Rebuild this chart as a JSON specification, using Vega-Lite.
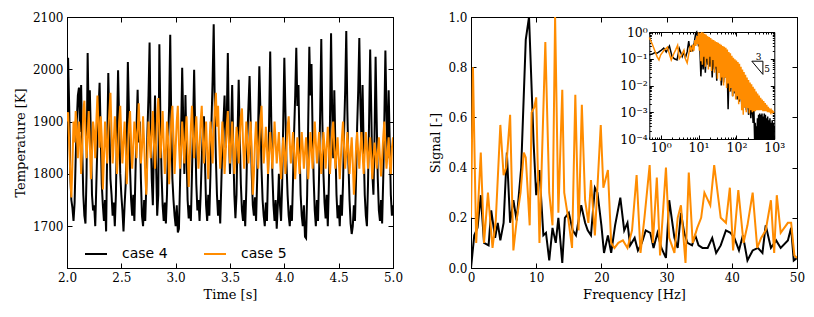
{
"$schema": "https://vega.github.io/schema/vega-lite/v6.json",
"background": "white",
"padding": {"left": 13, "top": 10, "right": 5, "bottom": 5},
"config": {
 "font": "DejaVu Serif",
 "view": {"stroke": "black", "strokeWidth": 1},
 "axis": {"labelFont": "DejaVu Serif", "labelFontSize": 12, "titleFont": "DejaVu Serif", "titleFontSize": 13, "titleFontWeight": "normal", "labelColor": "black", "titleColor": "black", "domainColor": "black", "tickColor": "black", "grid": false, "tickSize": -5, "labelPadding": 9, "labelFlush": false, "labelOverlap": false, "titlePadding": 5}
},
"datasets": {
 "ts": [
{"t":2.00,"a":1840,"b":1900},{"t":2.01,"a":2022,"b":1918},{"t":2.02,"a":1930,"b":1860},{"t":2.03,"a":1800,"b":1800},{"t":2.04,"a":1750,"b":1755},{"t":2.05,"a":1735,"b":1820},{"t":2.06,"a":1710,"b":1900},{"t":2.07,"a":1745,"b":1860},{"t":2.08,"a":1830,"b":1920},{"t":2.09,"a":1900,"b":1880},
{"t":2.10,"a":1950,"b":1830},{"t":2.11,"a":1965,"b":1900},{"t":2.12,"a":1880,"b":1870},{"t":2.13,"a":1970,"b":1800},{"t":2.14,"a":1850,"b":1850},{"t":2.15,"a":1760,"b":1920},{"t":2.16,"a":1720,"b":1940},{"t":2.17,"a":1705,"b":1880},{"t":2.18,"a":1800,"b":1830},{"t":2.19,"a":2031,"b":1870},
{"t":2.20,"a":1900,"b":1920},{"t":2.21,"a":1960,"b":1860},{"t":2.22,"a":1870,"b":1790},{"t":2.23,"a":1760,"b":1840},{"t":2.24,"a":1730,"b":1900},{"t":2.25,"a":1740,"b":1880},{"t":2.26,"a":1700,"b":1830},{"t":2.27,"a":1780,"b":1900},{"t":2.28,"a":1860,"b":1950},{"t":2.29,"a":1920,"b":1890},
{"t":2.30,"a":1974,"b":1850},{"t":2.31,"a":1880,"b":1910},{"t":2.32,"a":1780,"b":1870},{"t":2.33,"a":1740,"b":1770},{"t":2.34,"a":1710,"b":1830},{"t":2.35,"a":1750,"b":1900},{"t":2.36,"a":1690,"b":1860},{"t":2.37,"a":1850,"b":1820},{"t":2.38,"a":1993,"b":1880},{"t":2.39,"a":1890,"b":1920},
{"t":2.40,"a":1790,"b":1955},{"t":2.41,"a":1760,"b":1880},{"t":2.42,"a":1720,"b":1820},{"t":2.43,"a":1745,"b":1860},{"t":2.44,"a":1700,"b":1910},{"t":2.45,"a":1760,"b":1870},{"t":2.46,"a":1880,"b":1800},{"t":2.47,"a":1998,"b":1840},{"t":2.48,"a":1900,"b":1900},{"t":2.49,"a":1800,"b":1930},
{"t":2.50,"a":1760,"b":1870},{"t":2.51,"a":1730,"b":1820},{"t":2.52,"a":1690,"b":1860},{"t":2.53,"a":1740,"b":1900},{"t":2.54,"a":1780,"b":1850},{"t":2.55,"a":1870,"b":1780},{"t":2.56,"a":2014,"b":1830},{"t":2.57,"a":1920,"b":1890},{"t":2.58,"a":1810,"b":1920},{"t":2.59,"a":1750,"b":1860},
{"t":2.60,"a":1720,"b":1810},{"t":2.61,"a":1760,"b":1850},{"t":2.62,"a":1710,"b":1900},{"t":2.63,"a":1800,"b":1880},{"t":2.64,"a":1890,"b":1830},{"t":2.65,"a":1961,"b":1880},{"t":2.66,"a":1860,"b":1935},{"t":2.67,"a":1900,"b":1880},{"t":2.68,"a":1790,"b":1820},{"t":2.69,"a":1720,"b":1850},
{"t":2.70,"a":1700,"b":1910},{"t":2.71,"a":1750,"b":1860},{"t":2.72,"a":1710,"b":1800},{"t":2.73,"a":1780,"b":1760},{"t":2.74,"a":1880,"b":1830},{"t":2.75,"a":1950,"b":1900},{"t":2.76,"a":2051,"b":1870},{"t":2.77,"a":1880,"b":1830},{"t":2.78,"a":1790,"b":1880},{"t":2.79,"a":1740,"b":1920},
{"t":2.80,"a":1850,"b":1860},{"t":2.81,"a":1950,"b":1810},{"t":2.82,"a":1820,"b":1860},{"t":2.83,"a":1720,"b":1910},{"t":2.84,"a":1760,"b":1945},{"t":2.85,"a":2048,"b":1880},{"t":2.86,"a":1900,"b":1830},{"t":2.87,"a":1800,"b":1870},{"t":2.88,"a":1740,"b":1920},{"t":2.89,"a":1710,"b":1860},
{"t":2.90,"a":1745,"b":1800},{"t":2.91,"a":1705,"b":1840},{"t":2.92,"a":1760,"b":1900},{"t":2.93,"a":1860,"b":1870},{"t":2.94,"a":1930,"b":1780},{"t":2.95,"a":2066,"b":1840},{"t":2.96,"a":1890,"b":1900},{"t":2.97,"a":1790,"b":1930},{"t":2.98,"a":1750,"b":1870},{"t":2.99,"a":1720,"b":1800},
{"t":3.00,"a":1700,"b":1850},{"t":3.01,"a":1740,"b":1900},{"t":3.02,"a":1688,"b":1930},{"t":3.03,"a":1695,"b":1860},{"t":3.04,"a":1780,"b":1810},{"t":3.05,"a":1880,"b":1850},{"t":3.06,"a":2003,"b":1900},{"t":3.07,"a":1900,"b":1860},{"t":3.08,"a":1800,"b":1820},{"t":3.09,"a":1951,"b":1870},
{"t":3.10,"a":1840,"b":1910},{"t":3.11,"a":1750,"b":1850},{"t":3.12,"a":1715,"b":1775},{"t":3.13,"a":1740,"b":1830},{"t":3.14,"a":1710,"b":1890},{"t":3.15,"a":1800,"b":1930},{"t":3.16,"a":1890,"b":1870},{"t":3.17,"a":1999,"b":1830},{"t":3.18,"a":1880,"b":1870},{"t":3.19,"a":1780,"b":1910},
{"t":3.20,"a":1730,"b":1860},{"t":3.21,"a":1750,"b":1810},{"t":3.22,"a":1710,"b":1850},{"t":3.23,"a":1760,"b":1900},{"t":3.24,"a":1830,"b":1930},{"t":3.25,"a":1880,"b":1870},{"t":3.26,"a":1910,"b":1820},{"t":3.27,"a":1820,"b":1860},{"t":3.28,"a":1740,"b":1900},{"t":3.29,"a":1710,"b":1840},
{"t":3.30,"a":1760,"b":1790},{"t":3.31,"a":1720,"b":1850},{"t":3.32,"a":1800,"b":1900},{"t":3.33,"a":1900,"b":1870},{"t":3.34,"a":1980,"b":1820},{"t":3.35,"a":2086,"b":1880},{"t":3.36,"a":1930,"b":1920},{"t":3.37,"a":1830,"b":1955},{"t":3.38,"a":1760,"b":1890},{"t":3.39,"a":1720,"b":1930},
{"t":3.40,"a":1750,"b":1860},{"t":3.41,"a":1705,"b":1810},{"t":3.42,"a":1780,"b":1850},{"t":3.43,"a":1860,"b":1900},{"t":3.44,"a":1900,"b":1860},{"t":3.45,"a":1950,"b":1800},{"t":3.46,"a":1850,"b":1840},{"t":3.47,"a":1900,"b":1890},{"t":3.48,"a":2031,"b":1920},{"t":3.49,"a":1880,"b":1860},
{"t":3.50,"a":1800,"b":1820},{"t":3.51,"a":1880,"b":1860},{"t":3.52,"a":1970,"b":1900},{"t":3.53,"a":1850,"b":1850},{"t":3.54,"a":1760,"b":1800},{"t":3.55,"a":1715,"b":1840},{"t":3.56,"a":1760,"b":1890},{"t":3.57,"a":1880,"b":1860},{"t":3.58,"a":1980,"b":1820},{"t":3.59,"a":1870,"b":1870},
{"t":3.60,"a":1780,"b":1910},{"t":3.61,"a":1730,"b":1925},{"t":3.62,"a":1710,"b":1860},{"t":3.63,"a":1750,"b":1810},{"t":3.64,"a":1700,"b":1850},{"t":3.65,"a":1770,"b":1900},{"t":3.66,"a":1870,"b":1860},{"t":3.67,"a":1930,"b":1820},{"t":3.68,"a":1987,"b":1860},{"t":3.69,"a":1900,"b":1900},
{"t":3.70,"a":1800,"b":1840},{"t":3.71,"a":1740,"b":1760},{"t":3.72,"a":1720,"b":1800},{"t":3.73,"a":1755,"b":1860},{"t":3.74,"a":1710,"b":1900},{"t":3.75,"a":1790,"b":1850},{"t":3.76,"a":1900,"b":1810},{"t":3.77,"a":2006,"b":1860},{"t":3.78,"a":1920,"b":1900},{"t":3.79,"a":1810,"b":1930},
{"t":3.80,"a":1750,"b":1870},{"t":3.81,"a":1720,"b":1820},{"t":3.82,"a":1700,"b":1850},{"t":3.83,"a":1745,"b":1890},{"t":3.84,"a":1710,"b":1850},{"t":3.85,"a":1800,"b":1800},{"t":3.86,"a":1900,"b":1840},{"t":3.87,"a":2034,"b":1880},{"t":3.88,"a":1900,"b":1850},{"t":3.89,"a":1800,"b":1810},
{"t":3.90,"a":1740,"b":1850},{"t":3.91,"a":1710,"b":1900},{"t":3.92,"a":1750,"b":1860},{"t":3.93,"a":1695,"b":1820},{"t":3.94,"a":1740,"b":1850},{"t":3.95,"a":1800,"b":1880},{"t":3.96,"a":1740,"b":1830},{"t":3.97,"a":1710,"b":1790},{"t":3.98,"a":1780,"b":1830},{"t":3.99,"a":1900,"b":1870},
{"t":4.00,"a":2022,"b":1840},{"t":4.01,"a":1920,"b":1800},{"t":4.02,"a":1820,"b":1850},{"t":4.03,"a":1760,"b":1890},{"t":4.04,"a":1720,"b":1910},{"t":4.05,"a":1700,"b":1860},{"t":4.06,"a":1740,"b":1820},{"t":4.07,"a":1710,"b":1850},{"t":4.08,"a":1790,"b":1880},{"t":4.09,"a":1880,"b":1840},
{"t":4.10,"a":1950,"b":1790},{"t":4.11,"a":2041,"b":1830},{"t":4.12,"a":1930,"b":1870},{"t":4.13,"a":1970,"b":1840},{"t":4.14,"a":1850,"b":1800},{"t":4.15,"a":1760,"b":1840},{"t":4.16,"a":1720,"b":1880},{"t":4.17,"a":1700,"b":1850},{"t":4.18,"a":1740,"b":1810},{"t":4.19,"a":1680,"b":1840},
{"t":4.20,"a":1677,"b":1870},{"t":4.21,"a":1760,"b":1830},{"t":4.22,"a":1900,"b":1790},{"t":4.23,"a":2043,"b":1830},{"t":4.24,"a":1950,"b":1880},{"t":4.25,"a":2010,"b":1850},{"t":4.26,"a":1880,"b":1810},{"t":4.27,"a":1790,"b":1850},{"t":4.28,"a":1730,"b":1900},{"t":4.29,"a":1700,"b":1860},
{"t":4.30,"a":1750,"b":1820},{"t":4.31,"a":1710,"b":1850},{"t":4.32,"a":1800,"b":1880},{"t":4.33,"a":1920,"b":1840},{"t":4.34,"a":2058,"b":1800},{"t":4.35,"a":1900,"b":1840},{"t":4.36,"a":1800,"b":1880},{"t":4.37,"a":1745,"b":1850},{"t":4.38,"a":1715,"b":1810},{"t":4.39,"a":1760,"b":1850},
{"t":4.40,"a":1700,"b":1890},{"t":4.41,"a":1780,"b":1850},{"t":4.42,"a":1900,"b":1800},{"t":4.43,"a":2069,"b":1840},{"t":4.44,"a":1920,"b":1880},{"t":4.45,"a":1830,"b":1900},{"t":4.46,"a":1960,"b":1850},{"t":4.47,"a":1850,"b":1810},{"t":4.48,"a":1760,"b":1840},{"t":4.49,"a":1715,"b":1870},
{"t":4.50,"a":1740,"b":1830},{"t":4.51,"a":1700,"b":1790},{"t":4.52,"a":1760,"b":1830},{"t":4.53,"a":1720,"b":1870},{"t":4.54,"a":1780,"b":1900},{"t":4.55,"a":1880,"b":1850},{"t":4.56,"a":1960,"b":1810},{"t":4.57,"a":2073,"b":1840},{"t":4.58,"a":1920,"b":1880},{"t":4.59,"a":1820,"b":1840},
{"t":4.60,"a":1750,"b":1800},{"t":4.61,"a":1705,"b":1840},{"t":4.62,"a":1685,"b":1870},{"t":4.63,"a":1700,"b":1820},{"t":4.64,"a":1740,"b":1760},{"t":4.65,"a":1710,"b":1800},{"t":4.66,"a":1790,"b":1850},{"t":4.67,"a":1890,"b":1880},{"t":4.68,"a":1960,"b":1840},{"t":4.69,"a":2060,"b":1810},
{"t":4.70,"a":1930,"b":1850},{"t":4.71,"a":1860,"b":1880},{"t":4.72,"a":1970,"b":1840},{"t":4.73,"a":1850,"b":1800},{"t":4.74,"a":1760,"b":1840},{"t":4.75,"a":1720,"b":1880},{"t":4.76,"a":1700,"b":1850},{"t":4.77,"a":1780,"b":1810},{"t":4.78,"a":1900,"b":1840},{"t":4.79,"a":2038,"b":1870},
{"t":4.80,"a":1920,"b":1830},{"t":4.81,"a":1800,"b":1790},{"t":4.82,"a":1760,"b":1830},{"t":4.83,"a":1870,"b":1860},{"t":4.84,"a":2024,"b":1840},{"t":4.85,"a":1900,"b":1810},{"t":4.86,"a":1790,"b":1840},{"t":4.87,"a":1730,"b":1870},{"t":4.88,"a":1710,"b":1830},{"t":4.89,"a":1750,"b":1795},
{"t":4.90,"a":1705,"b":1830},{"t":4.91,"a":1790,"b":1870},{"t":4.92,"a":1900,"b":1900},{"t":4.93,"a":2036,"b":1850},{"t":4.94,"a":1920,"b":1810},{"t":4.95,"a":1830,"b":1840},{"t":4.96,"a":1960,"b":1870},{"t":4.97,"a":1860,"b":1820},{"t":4.98,"a":1760,"b":1800},{"t":4.99,"a":1720,"b":1850},
{"t":5.00,"a":1740,"b":1870}
 ],
 "sp": [
{"f":0,"s":0,"k":"a"},{"f":0.5,"s":0.13,"k":"a"},{"f":1.0,"s":0.16,"k":"a"},{"f":1.5,"s":0.29,"k":"a"},{"f":2.0,"s":0.1,"k":"a"},{"f":2.7,"s":0.09,"k":"a"},{"f":3.1,"s":0.23,"k":"a"},{"f":3.7,"s":0.12,"k":"a"},{"f":4.1,"s":0.18,"k":"a"},{"f":4.5,"s":0.11,"k":"a"},{"f":5.0,"s":0.18,"k":"a"},{"f":5.5,"s":0.46,"k":"a"},{"f":6.0,"s":0.18,"k":"a"},{"f":6.5,"s":0.27,"k":"a"},{"f":7.0,"s":0.19,"k":"a"},{"f":7.7,"s":0.4,"k":"a"},{"f":8.4,"s":0.91,"k":"a"},{"f":8.9,"s":1.0,"k":"a"},{"f":9.6,"s":0.5,"k":"a"},{"f":10.0,"s":0.29,"k":"a"},{"f":10.5,"s":0.39,"k":"a"},{"f":11.1,"s":0.13,"k":"a"},{"f":11.5,"s":0.14,"k":"a"},{"f":12.0,"s":0.03,"k":"a"},{"f":12.5,"s":0.16,"k":"a"},{"f":13.0,"s":0.1,"k":"a"},{"f":13.4,"s":0.2,"k":"a"},{"f":14.0,"s":0.02,"k":"a"},{"f":14.4,"s":0.2,"k":"a"},{"f":15.0,"s":0.22,"k":"a"},{"f":15.6,"s":0.15,"k":"a"},{"f":16.1,"s":0.13,"k":"a"},{"f":16.9,"s":0.25,"k":"a"},{"f":17.5,"s":0.18,"k":"a"},{"f":17.9,"s":0.15,"k":"a"},{"f":18.4,"s":0.13,"k":"a"},{"f":19.0,"s":0.32,"k":"a"},{"f":19.4,"s":0.3,"k":"a"},{"f":20.0,"s":0.17,"k":"a"},{"f":20.4,"s":0.06,"k":"a"},{"f":21.0,"s":0.13,"k":"a"},{"f":21.5,"s":0.06,"k":"a"},{"f":22.1,"s":0.17,"k":"a"},{"f":22.9,"s":0.28,"k":"a"},{"f":23.5,"s":0.15,"k":"a"},{"f":24.0,"s":0.18,"k":"a"},{"f":24.4,"s":0.09,"k":"a"},{"f":25.1,"s":0.12,"k":"a"},{"f":25.6,"s":0.07,"k":"a"},{"f":26.2,"s":0.1,"k":"a"},{"f":26.8,"s":0.15,"k":"a"},{"f":27.5,"s":0.14,"k":"a"},{"f":28.0,"s":0.08,"k":"a"},{"f":28.6,"s":0.14,"k":"a"},{"f":29.2,"s":0.08,"k":"a"},{"f":29.9,"s":0.04,"k":"a"},{"f":30.4,"s":0.27,"k":"a"},{"f":31.2,"s":0.12,"k":"a"},{"f":31.7,"s":0.08,"k":"a"},{"f":32.2,"s":0.22,"k":"a"},{"f":32.7,"s":0.14,"k":"a"},{"f":33.2,"s":0.1,"k":"a"},{"f":33.9,"s":0.09,"k":"a"},{"f":34.4,"s":0.13,"k":"a"},{"f":34.9,"s":0.09,"k":"a"},{"f":35.5,"s":0.08,"k":"a"},{"f":36.3,"s":0.08,"k":"a"},{"f":37.0,"s":0.12,"k":"a"},{"f":37.6,"s":0.06,"k":"a"},{"f":38.3,"s":0.09,"k":"a"},{"f":39.1,"s":0.15,"k":"a"},{"f":39.8,"s":0.14,"k":"a"},{"f":40.4,"s":0.12,"k":"a"},{"f":41.1,"s":0.07,"k":"a"},{"f":41.7,"s":0.13,"k":"a"},{"f":42.4,"s":0.03,"k":"a"},{"f":43.2,"s":0.07,"k":"a"},{"f":44.0,"s":0.08,"k":"a"},{"f":44.7,"s":0.06,"k":"a"},{"f":45.2,"s":0.17,"k":"a"},{"f":46.0,"s":0.08,"k":"a"},{"f":46.8,"s":0.11,"k":"a"},{"f":47.5,"s":0.08,"k":"a"},{"f":48.6,"s":0.11,"k":"a"},{"f":49.1,"s":0.16,"k":"a"},{"f":49.5,"s":0.03,"k":"a"},{"f":50,"s":0.04,"k":"a"},
{"f":0,"s":0.2,"k":"b"},{"f":0.3,"s":0.8,"k":"b"},{"f":0.8,"s":0.1,"k":"b"},{"f":1.5,"s":0.46,"k":"b"},{"f":2.0,"s":0.1,"k":"b"},{"f":2.6,"s":0.3,"k":"b"},{"f":3.3,"s":0.08,"k":"b"},{"f":3.8,"s":0.19,"k":"b"},{"f":4.5,"s":0.57,"k":"b"},{"f":5.0,"s":0.37,"k":"b"},{"f":5.4,"s":0.4,"k":"b"},{"f":6.0,"s":0.61,"k":"b"},{"f":6.5,"s":0.07,"k":"b"},{"f":7.05,"s":0.2,"k":"b"},{"f":7.6,"s":0.3,"k":"b"},{"f":8.1,"s":0.46,"k":"b"},{"f":8.4,"s":0.44,"k":"b"},{"f":9.0,"s":0.17,"k":"b"},{"f":9.3,"s":0.62,"k":"b"},{"f":9.7,"s":0.64,"k":"b"},{"f":10.0,"s":0.68,"k":"b"},{"f":10.5,"s":0.1,"k":"b"},{"f":11.4,"s":0.9,"k":"b"},{"f":12.0,"s":0.3,"k":"b"},{"f":12.5,"s":0.17,"k":"b"},{"f":12.9,"s":1.0,"k":"b"},{"f":13.4,"s":0.22,"k":"b"},{"f":14.0,"s":0.71,"k":"b"},{"f":14.3,"s":0.3,"k":"b"},{"f":14.9,"s":0.2,"k":"b"},{"f":15.5,"s":0.08,"k":"b"},{"f":16.0,"s":0.69,"k":"b"},{"f":16.5,"s":0.15,"k":"b"},{"f":17.0,"s":0.65,"k":"b"},{"f":17.5,"s":0.27,"k":"b"},{"f":18.0,"s":0.18,"k":"b"},{"f":18.4,"s":0.35,"k":"b"},{"f":19.0,"s":0.13,"k":"b"},{"f":19.9,"s":0.57,"k":"b"},{"f":20.3,"s":0.32,"k":"b"},{"f":21.0,"s":0.39,"k":"b"},{"f":21.5,"s":0.1,"k":"b"},{"f":22.0,"s":0.08,"k":"b"},{"f":22.6,"s":0.1,"k":"b"},{"f":23.3,"s":0.11,"k":"b"},{"f":24.0,"s":0.08,"k":"b"},{"f":24.7,"s":0.15,"k":"b"},{"f":25.4,"s":0.37,"k":"b"},{"f":26.0,"s":0.06,"k":"b"},{"f":26.6,"s":0.2,"k":"b"},{"f":27.4,"s":0.41,"k":"b"},{"f":27.9,"s":0.1,"k":"b"},{"f":28.5,"s":0.36,"k":"b"},{"f":29.0,"s":0.05,"k":"b"},{"f":29.9,"s":0.4,"k":"b"},{"f":30.4,"s":0.12,"k":"b"},{"f":31.2,"s":0.06,"k":"b"},{"f":31.7,"s":0.2,"k":"b"},{"f":32.2,"s":0.25,"k":"b"},{"f":32.9,"s":0.02,"k":"b"},{"f":33.4,"s":0.38,"k":"b"},{"f":34.0,"s":0.1,"k":"b"},{"f":34.7,"s":0.16,"k":"b"},{"f":35.3,"s":0.2,"k":"b"},{"f":35.8,"s":0.3,"k":"b"},{"f":36.7,"s":0.25,"k":"b"},{"f":37.3,"s":0.41,"k":"b"},{"f":38.3,"s":0.2,"k":"b"},{"f":39.1,"s":0.18,"k":"b"},{"f":39.7,"s":0.32,"k":"b"},{"f":40.2,"s":0.07,"k":"b"},{"f":41.0,"s":0.31,"k":"b"},{"f":41.8,"s":0.1,"k":"b"},{"f":42.4,"s":0.17,"k":"b"},{"f":43.2,"s":0.3,"k":"b"},{"f":43.9,"s":0.08,"k":"b"},{"f":44.5,"s":0.12,"k":"b"},{"f":45.2,"s":0.15,"k":"b"},{"f":46.0,"s":0.27,"k":"b"},{"f":46.5,"s":0.06,"k":"b"},{"f":46.9,"s":0.29,"k":"b"},{"f":47.5,"s":0.14,"k":"b"},{"f":48.6,"s":0.18,"k":"b"},{"f":49.1,"s":0.18,"k":"b"},{"f":49.6,"s":0.05,"k":"b"},{"f":50,"s":0.04,"k":"b"}
 ],
 "ins": [
{"f":0.5,"v":0.14,"k":"a"},{"f":0.6,"v":0.15,"k":"a"},{"f":0.7,"v":0.17,"k":"a"},{"f":0.8,"v":0.16,"k":"a"},{"f":1.0,"v":0.2,"k":"a"},{"f":1.2,"v":0.25,"k":"a"},{"f":1.4,"v":0.18,"k":"a"},{"f":1.7,"v":0.3,"k":"a"},{"f":2.0,"v":0.12,"k":"a"},{"f":2.3,"v":0.1,"k":"a"},{"f":2.7,"v":0.09,"k":"a"},{"f":3.1,"v":0.24,"k":"a"},{"f":3.7,"v":0.12,"k":"a"},{"f":4.1,"v":0.18,"k":"a"},{"f":4.5,"v":0.11,"k":"a"},{"f":5.0,"v":0.18,"k":"a"},{"f":5.5,"v":0.46,"k":"a"},{"f":6.0,"v":0.18,"k":"a"},{"f":6.5,"v":0.27,"k":"a"},{"f":7.0,"v":0.19,"k":"a"},{"f":7.7,"v":0.4,"k":"a"},{"f":8.4,"v":0.91,"k":"a"},{"f":8.9,"v":1.0,"k":"a"},{"f":9.6,"v":0.5,"k":"a"},
{"f":10,"v":0.29,"k":"a"},{"f":10.7,"v":0.39,"k":"a"},{"f":11.5,"v":0.022,"k":"a"},{"f":12.3,"v":0.16,"k":"a"},{"f":13.2,"v":0.04,"k":"a"},{"f":14.1,"v":0.2,"k":"a"},{"f":15.1,"v":0.03,"k":"a"},{"f":16.2,"v":0.25,"k":"a"},{"f":17.4,"v":0.06,"k":"a"},{"f":18.6,"v":0.3,"k":"a"},{"f":20,"v":0.05,"k":"a"},{"f":21.4,"v":0.28,"k":"a"},{"f":22.9,"v":0.02,"k":"a"},{"f":24.5,"v":0.22,"k":"a"},{"f":26.3,"v":0.04,"k":"a"},{"f":28.2,"v":0.2,"k":"a"},{"f":30.2,"v":0.015,"k":"a"},{"f":32.4,"v":0.18,"k":"a"},{"f":34.7,"v":0.03,"k":"a"},{"f":37.2,"v":0.15,"k":"a"},{"f":39.8,"v":0.01,"k":"a"},{"f":42.7,"v":0.13,"k":"a"},{"f":45.7,"v":0.013,"k":"a"},{"f":49,"v":0.1,"k":"a"},{"f":52.5,"v":0.02,"k":"a"},{"f":56.2,"v":0.09,"k":"a"},{"f":60.3,"v":0.0013,"k":"a"},{"f":64.6,"v":0.07,"k":"a"},{"f":69.2,"v":0.006,"k":"a"},{"f":74.1,"v":0.06,"k":"a"},{"f":79.4,"v":0.004,"k":"a"},{"f":85.1,"v":0.05,"k":"a"},{"f":91.2,"v":0.005,"k":"a"},{"f":97.7,"v":0.04,"k":"a"},{"f":104.7,"v":0.003,"k":"a"},{"f":112.2,"v":0.03,"k":"a"},{"f":120.2,"v":0.0025,"k":"a"},{"f":128.8,"v":0.025,"k":"a"},{"f":138,"v":0.002,"k":"a"},{"f":147.9,"v":0.02,"k":"a"},{"f":158.5,"v":0.0015,"k":"a"},{"f":169.8,"v":0.012,"k":"a"},{"f":182,"v":0.0012,"k":"a"},{"f":195,"v":0.008,"k":"a"},{"f":208.9,"v":0.0008,"k":"a"},{"f":223.9,"v":0.005,"k":"a"},{"f":239.9,"v":0.0006,"k":"a"},{"f":257,"v":0.003,"k":"a"},{"f":275.4,"v":0.0004,"k":"a"},{"f":288.4,"v":0.0015,"k":"a"},
{"f":302,"v":0.0001,"k":"a"},{"f":312.6,"v":0.0004,"k":"a"},{"f":323.6,"v":0.0001,"k":"a"},{"f":335,"v":0.0003,"k":"a"},{"f":346.7,"v":0.0001,"k":"a"},{"f":358.9,"v":0.0006,"k":"a"},{"f":371.5,"v":0.0001,"k":"a"},{"f":384.6,"v":0.0008,"k":"a"},{"f":398.1,"v":0.0001,"k":"a"},{"f":412.1,"v":0.0009,"k":"a"},{"f":426.6,"v":0.0001,"k":"a"},{"f":441.6,"v":0.0008,"k":"a"},{"f":457.1,"v":0.0001,"k":"a"},{"f":473.2,"v":0.0009,"k":"a"},{"f":489.8,"v":0.0001,"k":"a"},{"f":507,"v":0.0007,"k":"a"},{"f":524.8,"v":0.0001,"k":"a"},{"f":543.3,"v":0.0009,"k":"a"},{"f":562.3,"v":0.0001,"k":"a"},{"f":582.1,"v":0.0008,"k":"a"},{"f":602.6,"v":0.0001,"k":"a"},{"f":623.7,"v":0.0006,"k":"a"},{"f":645.7,"v":0.0001,"k":"a"},{"f":668.3,"v":0.0007,"k":"a"},{"f":691.8,"v":0.0001,"k":"a"},{"f":716.1,"v":0.0005,"k":"a"},{"f":741.3,"v":0.0001,"k":"a"},{"f":767.4,"v":0.0006,"k":"a"},{"f":794.3,"v":0.0001,"k":"a"},{"f":822.2,"v":0.0004,"k":"a"},{"f":851.1,"v":0.0001,"k":"a"},{"f":881,"v":0.0005,"k":"a"},{"f":912,"v":0.0001,"k":"a"},{"f":944,"v":0.0004,"k":"a"},{"f":977,"v":0.0001,"k":"a"},{"f":1000,"v":0.0003,"k":"a"},
{"f":0.5,"v":0.62,"k":"b"},{"f":0.6,"v":0.35,"k":"b"},{"f":0.7,"v":0.2,"k":"b"},{"f":0.8,"v":0.12,"k":"b"},{"f":0.9,"v":0.09,"k":"b"},{"f":1.0,"v":0.14,"k":"b"},{"f":1.2,"v":0.2,"k":"b"},{"f":1.5,"v":0.27,"k":"b"},{"f":1.7,"v":0.15,"k":"b"},{"f":1.9,"v":0.09,"k":"b"},{"f":2.2,"v":0.15,"k":"b"},{"f":2.5,"v":0.22,"k":"b"},{"f":2.8,"v":0.32,"k":"b"},{"f":3.1,"v":0.1,"k":"b"},{"f":3.5,"v":0.13,"k":"b"},{"f":4.1,"v":0.21,"k":"b"},{"f":4.5,"v":0.1,"k":"b"},{"f":5.0,"v":0.07,"k":"b"},{"f":5.5,"v":0.15,"k":"b"},{"f":6.0,"v":0.3,"k":"b"},{"f":6.5,"v":0.18,"k":"b"},{"f":7.0,"v":0.34,"k":"b"},{"f":7.5,"v":0.2,"k":"b"},{"f":8.0,"v":0.5,"k":"b"},{"f":8.5,"v":0.3,"k":"b"},{"f":9.0,"v":0.7,"k":"b"},
{"f":9.5,"v":0.35,"k":"b"},{"f":10,"v":0.98,"k":"b"},{"f":10.5,"v":0.2,"k":"b"},{"f":11,"v":0.9,"k":"b"},{"f":11.5,"v":0.08,"k":"b"},{"f":12,"v":1.0,"k":"b"},{"f":12.6,"v":0.06,"k":"b"},{"f":13.2,"v":0.95,"k":"b"},{"f":13.8,"v":0.12,"k":"b"},{"f":14.5,"v":0.85,"k":"b"},{"f":15.1,"v":0.05,"k":"b"},{"f":15.8,"v":0.8,"k":"b"},{"f":16.6,"v":0.1,"k":"b"},{"f":17.4,"v":0.7,"k":"b"},{"f":18.2,"v":0.04,"k":"b"},{"f":19.1,"v":0.65,"k":"b"},{"f":20,"v":0.12,"k":"b"},{"f":20.9,"v":0.6,"k":"b"},{"f":21.9,"v":0.035,"k":"b"},{"f":22.9,"v":0.52,"k":"b"},{"f":24,"v":0.09,"k":"b"},{"f":25.1,"v":0.5,"k":"b"},{"f":26.3,"v":0.03,"k":"b"},{"f":27.5,"v":0.45,"k":"b"},{"f":28.8,"v":0.05,"k":"b"},{"f":30.2,"v":0.42,"k":"b"},{"f":31.6,"v":0.018,"k":"b"},{"f":33.1,"v":0.4,"k":"b"},{"f":34.7,"v":0.03,"k":"b"},{"f":36.3,"v":0.36,"k":"b"},{"f":38,"v":0.015,"k":"b"},{"f":39.8,"v":0.33,"k":"b"},{"f":41.7,"v":0.02,"k":"b"},{"f":43.7,"v":0.3,"k":"b"},{"f":45.7,"v":0.01,"k":"b"},{"f":47.9,"v":0.28,"k":"b"},{"f":50.1,"v":0.02,"k":"b"},{"f":52.5,"v":0.26,"k":"b"},{"f":55,"v":0.008,"k":"b"},{"f":57.5,"v":0.22,"k":"b"},{"f":60.3,"v":0.012,"k":"b"},{"f":63.1,"v":0.18,"k":"b"},{"f":66.1,"v":0.006,"k":"b"},{"f":69.2,"v":0.16,"k":"b"},{"f":72.4,"v":0.008,"k":"b"},{"f":75.9,"v":0.13,"k":"b"},{"f":79.4,"v":0.004,"k":"b"},{"f":83.2,"v":0.11,"k":"b"},{"f":87.1,"v":0.006,"k":"b"},{"f":91.2,"v":0.095,"k":"b"},{"f":95.5,"v":0.003,"k":"b"},{"f":100,"v":0.085,"k":"b"},{"f":104.7,"v":0.004,"k":"b"},{"f":109.6,"v":0.075,"k":"b"},{"f":114.8,"v":0.002,"k":"b"},{"f":120.2,"v":0.065,"k":"b"},{"f":125.9,"v":0.003,"k":"b"},{"f":131.8,"v":0.05,"k":"b"},{"f":138,"v":0.0012,"k":"b"},{"f":144.5,"v":0.04,"k":"b"},{"f":151.4,"v":0.0008,"k":"b"},{"f":158.5,"v":0.032,"k":"b"},{"f":166,"v":0.0015,"k":"b"},{"f":173.8,"v":0.025,"k":"b"},{"f":182,"v":0.001,"k":"b"},{"f":190.5,"v":0.02,"k":"b"},{"f":199.5,"v":0.0014,"k":"b"},{"f":208.9,"v":0.016,"k":"b"},{"f":218.8,"v":0.0009,"k":"b"},{"f":229.1,"v":0.013,"k":"b"},{"f":239.9,"v":0.0012,"k":"b"},{"f":251.2,"v":0.011,"k":"b"},{"f":263,"v":0.001,"k":"b"},{"f":275.4,"v":0.009,"k":"b"},{"f":288.4,"v":0.0011,"k":"b"},{"f":302,"v":0.0075,"k":"b"},{"f":316.2,"v":0.0011,"k":"b"},{"f":331.1,"v":0.006,"k":"b"},{"f":346.7,"v":0.0012,"k":"b"},{"f":363.1,"v":0.005,"k":"b"},{"f":380.2,"v":0.0012,"k":"b"},{"f":398.1,"v":0.0042,"k":"b"},{"f":416.9,"v":0.0012,"k":"b"},{"f":436.5,"v":0.0035,"k":"b"},{"f":457.1,"v":0.0012,"k":"b"},{"f":478.6,"v":0.003,"k":"b"},{"f":501.2,"v":0.0011,"k":"b"},{"f":524.8,"v":0.0026,"k":"b"},{"f":549.5,"v":0.0011,"k":"b"},{"f":575.4,"v":0.0022,"k":"b"},{"f":602.6,"v":0.0011,"k":"b"},{"f":631,"v":0.0019,"k":"b"},{"f":660.7,"v":0.001,"k":"b"},{"f":691.8,"v":0.0016,"k":"b"},{"f":724.4,"v":0.001,"k":"b"},{"f":758.6,"v":0.0014,"k":"b"},{"f":794.3,"v":0.001,"k":"b"},{"f":831.8,"v":0.0012,"k":"b"},{"f":871,"v":0.00095,"k":"b"},{"f":912,"v":0.0011,"k":"b"},{"f":955,"v":0.001,"k":"b"},{"f":1000,"v":0.001,"k":"b"}
 ],
 "tri": [{"f":255,"v":0.081,"o":1},{"f":500,"v":0.081,"o":2},{"f":500,"v":0.026,"o":3},{"f":255,"v":0.081,"o":4}],
 "trit": [{"f":385,"v":0.115,"l":"3"},{"f":650,"v":0.042,"l":"5"}]
},
"hconcat": [
 {
  "width": 326, "height": 251,
  "data": {"name": "ts"},
  "transform": [{"fold": ["a", "b"], "as": ["k", "T"]}],
  "layer": [
   {
    "mark": {"type": "line", "strokeWidth": 2, "clip": true},
    "encoding": {
     "x": {"field": "t", "type": "quantitative", "scale": {"domain": [2, 5], "nice": false}, "axis": {"orient": "bottom", "title": "Time [s]", "values": [2, 2.5, 3, 3.5, 4, 4.5, 5], "format": ".1f"}},
     "y": {"field": "T", "type": "quantitative", "scale": {"domain": [1620, 2100], "nice": false, "zero": false}, "axis": {"orient": "left", "title": "Temperature [K]", "values": [1700, 1800, 1900, 2000, 2100], "format": "d", "labelPadding": 9}},
     "color": {"field": "k", "type": "nominal", "scale": {"domain": ["a", "b"], "range": ["#000000", "#ff8c00"]},
      "legend": {"orient": "none", "legendX": 17, "legendY": 225, "direction": "horizontal", "title": null, "symbolType": "stroke", "symbolStrokeWidth": 2, "symbolSize": 484, "labelFont": "DejaVu Sans", "labelFontSize": 14, "labelColor": "black", "labelOffset": 14, "columnPadding": 32, "labelExpr": "datum.label == 'a' ? 'case 4' : 'case 5'"}}
    }
   },
   {
    "mark": {"type": "line", "opacity": 0},
    "encoding": {
     "x": {"field": "t", "type": "quantitative", "scale": {"domain": [2, 5], "nice": false}, "axis": {"orient": "top", "labels": false, "title": null, "values": [2, 2.5, 3, 3.5, 4, 4.5, 5]}},
     "y": {"field": "T", "type": "quantitative", "scale": {"domain": [1620, 2100], "nice": false, "zero": false}, "axis": {"orient": "right", "labels": false, "title": null, "values": [1700, 1800, 1900, 2000, 2100]}}
    }
   }
  ],
  "resolve": {"axis": {"x": "independent", "y": "independent"}}
 },
 {
  "width": 326, "height": 251,
  "layer": [
   {
    "data": {"name": "sp"},
    "layer": [
     {
      "mark": {"type": "line", "strokeWidth": 2, "clip": true},
      "encoding": {
       "x": {"field": "f", "type": "quantitative", "scale": {"domain": [0, 50], "nice": false}, "axis": {"orient": "bottom", "title": "Frequency [Hz]", "values": [0, 10, 20, 30, 40, 50]}},
       "y": {"field": "s", "type": "quantitative", "scale": {"domain": [0, 1], "nice": false}, "axis": {"orient": "left", "title": "Signal [-]", "values": [0, 0.2, 0.4, 0.6, 0.8, 1.0], "format": ".1f"}},
       "color": {"field": "k", "type": "nominal", "scale": {"domain": ["a", "b"], "range": ["#000000", "#ff8c00"]}, "legend": null}
      }
     },
     {
      "mark": {"type": "line", "opacity": 0},
      "encoding": {
       "x": {"field": "f", "type": "quantitative", "scale": {"domain": [0, 50], "nice": false}, "axis": {"orient": "top", "labels": false, "title": null, "values": [0, 10, 20, 30, 40, 50]}},
       "y": {"field": "s", "type": "quantitative", "scale": {"domain": [0, 1], "nice": false}, "axis": {"orient": "right", "labels": false, "title": null, "values": [0, 0.2, 0.4, 0.6, 0.8, 1.0]}}
      }
     }
    ],
    "resolve": {"axis": {"x": "independent", "y": "independent"}}
   },
   {
    "layer": [
     {
      "data": {"name": "ins"},
      "mark": {"type": "line", "strokeWidth": 1.5, "clip": true},
      "encoding": {
       "x": {"field": "f", "type": "quantitative", "scale": {"type": "log", "domain": [0.5, 1000], "range": [178.3, 303.3], "nice": false}, "axis": {"orient": "bottom", "offset": -129, "title": null, "labelPadding": 6, "labelFontSize": 12.5, "values": [0.5,0.6,0.7,0.8,0.9,1,2,3,4,5,6,7,8,9,10,20,30,40,50,60,70,80,90,100,200,300,400,500,600,700,800,900,1000], "tickSize": {"condition": {"test": "abs(log(datum.value)/LN10 - round(log(datum.value)/LN10)) < 0.001", "value": -4}, "value": -2}, "labelExpr": "abs(log(datum.value)/LN10 - round(log(datum.value)/LN10)) > 0.001 ? '' : '10' + (round(log(datum.value)/LN10) == 0 ? '⁰' : round(log(datum.value)/LN10) == 1 ? '¹' : round(log(datum.value)/LN10) == 2 ? '²' : '³')"}},
       "y": {"field": "v", "type": "quantitative", "scale": {"type": "log", "domain": [0.0001, 1], "range": [122, 15], "nice": false}, "axis": {"orient": "left", "offset": -178.3, "title": null, "labelPadding": 6, "labelFontSize": 12.5, "values": [0.0001,0.0002,0.0003,0.0004,0.0005,0.0006,0.0007,0.0008,0.0009,0.001,0.002,0.003,0.004,0.005,0.006,0.007,0.008,0.009,0.01,0.02,0.03,0.04,0.05,0.06,0.07,0.08,0.09,0.1,0.2,0.3,0.4,0.5,0.6,0.7,0.8,0.9,1], "tickSize": {"condition": {"test": "abs(log(datum.value)/LN10 - round(log(datum.value)/LN10)) < 0.001", "value": -4}, "value": -2}, "labelExpr": "abs(log(datum.value)/LN10 - round(log(datum.value)/LN10)) > 0.001 ? '' : '10' + (round(log(datum.value)/LN10) == 0 ? '⁰' : round(log(datum.value)/LN10) == -1 ? '⁻¹' : round(log(datum.value)/LN10) == -2 ? '⁻²' : round(log(datum.value)/LN10) == -3 ? '⁻³' : '⁻⁴')"}},
       "color": {"field": "k", "type": "nominal", "scale": {"domain": ["a", "b"], "range": ["#000000", "#ff8c00"]}, "legend": null}
      }
     },
     {
      "data": {"name": "ins"},
      "mark": {"type": "line", "opacity": 0},
      "encoding": {
       "x": {"field": "f", "type": "quantitative", "scale": {"type": "log", "domain": [0.5, 1000], "range": [178.3, 303.3], "nice": false}, "axis": {"orient": "top", "offset": -15, "title": null, "labels": false, "values": [0.5,0.6,0.7,0.8,0.9,1,2,3,4,5,6,7,8,9,10,20,30,40,50,60,70,80,90,100,200,300,400,500,600,700,800,900,1000], "tickSize": {"condition": {"test": "abs(log(datum.value)/LN10 - round(log(datum.value)/LN10)) < 0.001", "value": -4}, "value": -2}}},
       "y": {"field": "v", "type": "quantitative", "scale": {"type": "log", "domain": [0.0001, 1], "range": [122, 15], "nice": false}, "axis": {"orient": "right", "offset": -22.7, "title": null, "labels": false, "values": [0.0001,0.0002,0.0003,0.0004,0.0005,0.0006,0.0007,0.0008,0.0009,0.001,0.002,0.003,0.004,0.005,0.006,0.007,0.008,0.009,0.01,0.02,0.03,0.04,0.05,0.06,0.07,0.08,0.09,0.1,0.2,0.3,0.4,0.5,0.6,0.7,0.8,0.9,1], "tickSize": {"condition": {"test": "abs(log(datum.value)/LN10 - round(log(datum.value)/LN10)) < 0.001", "value": -4}, "value": -2}}}
      }
     },
     {
      "data": {"name": "tri"},
      "mark": {"type": "line", "strokeWidth": 1, "color": "black"},
      "encoding": {
       "x": {"field": "f", "type": "quantitative", "scale": {"type": "log", "domain": [0.5, 1000], "range": [178.3, 303.3], "nice": false}, "axis": null},
       "y": {"field": "v", "type": "quantitative", "scale": {"type": "log", "domain": [0.0001, 1], "range": [122, 15], "nice": false}, "axis": null},
       "order": {"field": "o", "type": "quantitative"}
      }
     },
     {
      "data": {"name": "trit"},
      "mark": {"type": "text", "font": "DejaVu Serif", "fontSize": 9, "color": "black"},
      "encoding": {
       "x": {"field": "f", "type": "quantitative", "scale": {"type": "log", "domain": [0.5, 1000], "range": [178.3, 303.3], "nice": false}, "axis": null},
       "y": {"field": "v", "type": "quantitative", "scale": {"type": "log", "domain": [0.0001, 1], "range": [122, 15], "nice": false}, "axis": null},
       "text": {"field": "l"}
      }
     }
    ],
    "resolve": {"axis": {"x": "independent", "y": "independent"}}
   }
  ],
  "resolve": {"scale": {"x": "independent", "y": "independent"}, "axis": {"x": "independent", "y": "independent"}}
 }
],
"spacing": 25,
"resolve": {"scale": {"color": "independent"}, "legend": {"color": "independent"}}
}
